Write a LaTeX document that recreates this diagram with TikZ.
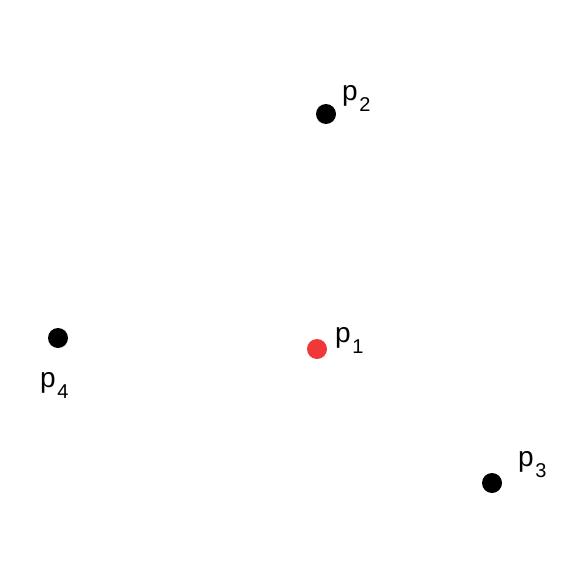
\documentclass[tikz,border=0pt]{standalone}
\usepackage{fontspec}
\setmainfont{Liberation Sans}
\definecolor{ptred}{RGB}{240,56,56}
\newcommand{\plabel}[1]{p\kern1.5pt\raisebox{-11pt}{\fontsize{20}{20}\selectfont #1}}
\begin{document}
\begin{tikzpicture}[x=1pt,y=-1pt,
  dot/.style={circle,fill=black,inner sep=0pt,minimum size=20pt},
  lbl/.style={anchor=base west,inner sep=0pt,font=\fontsize{28}{28}\selectfont}]
\useasboundingbox (0,0) rectangle (586,586);
\node[dot] (p2) at (326,114) {};
\node[dot,fill=ptred] (p1) at (317,349) {};
\node[dot] (p4) at (58,338) {};
\node[dot] (p3) at (492,483) {};
\node[lbl] (l2) at (342,100) {\plabel{2}};
\node[lbl] (l1) at (335,342) {\plabel{1}};
\node[lbl] (l4) at (40,387) {\plabel{4}};
\node[lbl] (l3) at (518,466) {\plabel{3}};
\end{tikzpicture}
\end{document}
